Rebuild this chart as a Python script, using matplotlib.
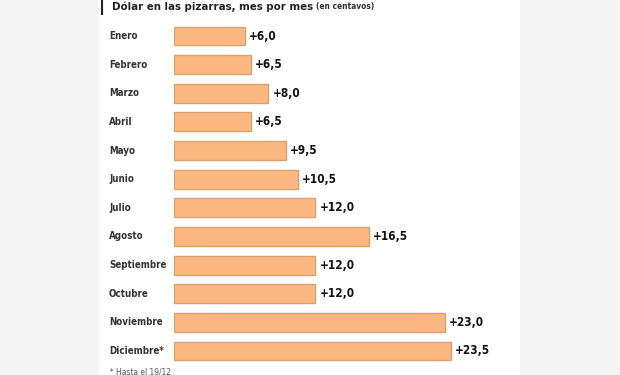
import matplotlib.pyplot as plt
from matplotlib.patches import Rectangle
from matplotlib.transforms import blended_transform_factory

meses = ['Enero', 'Febrero', 'Marzo', 'Abril', 'Mayo', 'Junio', 'Julio',
         'Agosto', 'Septiembre', 'Octubre', 'Noviembre', 'Diciembre*']
valores = [6.0, 6.5, 8.0, 6.5, 9.5, 10.5, 12.0, 16.5, 12.0, 12.0, 23.0, 23.5]
etiquetas = ['+6,0', '+6,5', '+8,0', '+6,5', '+9,5', '+10,5', '+12,0',
             '+16,5', '+12,0', '+12,0', '+23,0', '+23,5']

plt.rcParams['font.family'] = ['DejaVu Sans']
plt.rcParams['font.stretch'] = 'condensed'

W, H = 620, 375
fig = plt.figure(figsize=(6.2, 3.75), dpi=100, facecolor='#f5f5f5')

# white panel
fig.patches.append(Rectangle((99 / W, 0), (520 - 99) / W, 1, transform=fig.transFigure,
                             facecolor='white', edgecolor='none', zorder=-1))

escala = 11.79  # px per centavo
ax = fig.add_axes([174 / W, 1 - 365.3 / H, (520 - 174) / W, (365.3 - 21.7) / H])
ax.set_zorder(2)
ax.set_facecolor('none')
y = list(range(len(meses)))
ax.barh(y, valores, height=0.66, color='#fdb882', edgecolor='#d9a070', linewidth=1.0)
ax.set_xlim(0, (520 - 174) / escala)
ax.set_ylim(len(meses) - 0.5, -0.5)
ax.axis('off')

tr = blended_transform_factory(fig.transFigure, ax.transData)
for i, (m, v, e) in enumerate(zip(meses, valores, etiquetas)):
    ax.text(109 / W, i, m, transform=tr, ha='left', va='center',
            fontsize=7, color='#333333', fontweight='semibold')
    ax.annotate(e, (v, i), xytext=(3, 0), textcoords='offset points',
                ha='left', va='center', fontsize=8.5, fontweight='bold', color='#111111')

# title
fig.add_artist(plt.Line2D([102 / W, 102 / W], [1 - 14 / H, 1 - 0 / H],
                          transform=fig.transFigure, color='#222222', linewidth=1.5))
t = fig.text(112 / W, 1 - 7 / H, 'Dólar en las pizarras, mes por mes', ha='left', va='center',
             fontsize=8.2, fontweight='bold', color='#222222')
fig.canvas.draw()
bb = t.get_window_extent()
fig.text(bb.x1 / W + 3 / W, 1 - 7 / H, '(en centavos)', ha='left', va='center',
         fontsize=6, fontweight='semibold', color='#333333')

fig.text(110 / W, 3 / H, '* Hasta el 19/12', ha='left', va='center', fontsize=6, color='#555555')

fig.savefig('out.png', dpi=100, facecolor=fig.get_facecolor())
